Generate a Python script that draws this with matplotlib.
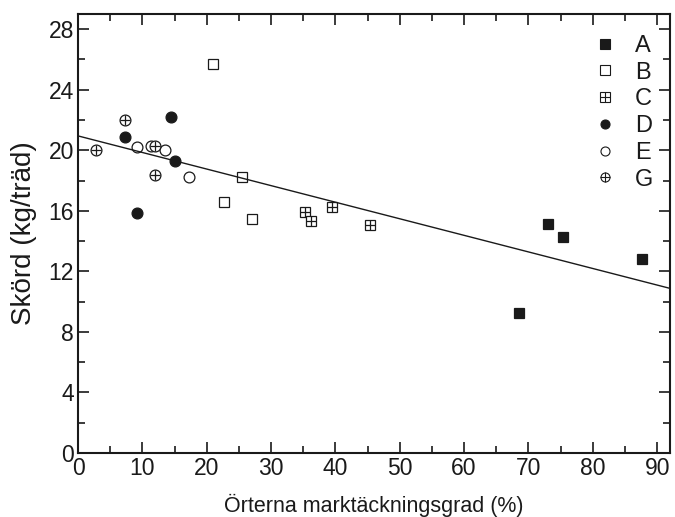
import matplotlib
matplotlib.use("Agg")
import matplotlib.pyplot as plt
from matplotlib.lines import Line2D
from matplotlib.legend_handler import HandlerTuple
from matplotlib.ticker import MultipleLocator
import numpy as np

plt.rcParams['font.family'] = ['Liberation Sans', 'DejaVu Sans']

# Data (x = herb ground cover %, y = yield kg/tree)
A_x = [68.5, 73.0, 75.4, 87.7]
A_y = [9.25, 15.1, 14.3, 12.85]
B_x = [20.9, 22.7, 25.5, 27.0]
B_y = [25.7, 16.6, 18.25, 15.45]
C_x = [35.3, 36.2, 39.4, 45.4]
C_y = [15.9, 15.35, 16.25, 15.05]
D_x = [7.3, 9.2, 14.5, 15.1]
D_y = [20.9, 15.85, 22.2, 19.3]
E_x = [9.1, 11.3, 13.5, 17.3]
E_y = [20.2, 20.3, 20.0, 18.25]
G_x = [2.8, 7.3, 11.9, 12.0]
G_y = [20.05, 22.0, 20.3, 18.35]

fit_intercept = 20.95
fit_slope = -0.1095

xlabel = "Örterna marktäckningsgrad (%)"
ylabel = "Skörd (kg/träd)"

fig = plt.figure(figsize=(6.75, 5.17), dpi=100)
ax = fig.add_axes([0.1156, 0.1238, 0.877, 0.849])

ms = 7.8
lw_m = 0.9
kw = dict(linestyle='none', markersize=ms, markeredgewidth=lw_m, color='black')

ax.plot(A_x, A_y, marker='s', markerfacecolor='#1a1a1a', markeredgecolor='#1a1a1a', **kw)
ax.plot(B_x, B_y, marker='s', markerfacecolor='white', markeredgecolor='#1a1a1a', **kw)
ax.plot(C_x, C_y, marker='s', markerfacecolor='white', markeredgecolor='#1a1a1a', **kw)
ax.plot(C_x, C_y, marker='+', markeredgecolor='#1a1a1a', **kw)
ax.plot(D_x, D_y, marker='o', markerfacecolor='#1a1a1a', markeredgecolor='#1a1a1a', **kw)
ax.plot(E_x, E_y, marker='o', markerfacecolor='white', markeredgecolor='#1a1a1a', **kw)
ax.plot(G_x, G_y, marker='o', markerfacecolor='white', markeredgecolor='#1a1a1a', **kw)
ax.plot(G_x, G_y, marker='+', markeredgecolor='#1a1a1a', **kw)

xx = np.array([0, 92])
ax.plot(xx, fit_intercept + fit_slope * xx, color='#1a1a1a', linewidth=1.0)

ax.set_xlim(0, 92)
ax.set_ylim(0, 29)
ax.xaxis.set_major_locator(MultipleLocator(10))
ax.xaxis.set_minor_locator(MultipleLocator(5))
ax.yaxis.set_major_locator(MultipleLocator(4))
ax.yaxis.set_minor_locator(MultipleLocator(2))
ax.tick_params(which='both', direction='in', top=True, right=True, width=1.2, colors='#1a1a1a', labelcolor='#1a1a1a')
ax.tick_params(which='major', length=8, labelsize=16.5, pad=3)
ax.tick_params(which='minor', length=5)
for s in ax.spines.values():
    s.set_linewidth(1.5)
    s.set_color('#1a1a1a')

ax.set_xlabel(xlabel, fontsize=15.5, color='#1a1a1a', labelpad=10)
ax.set_ylabel(ylabel, fontsize=20, color='#1a1a1a', labelpad=8)

lms = 6.5
lkw = dict(linestyle='none', markersize=lms, markeredgewidth=0.8, color='#1a1a1a')
hA = Line2D([], [], marker='s', markerfacecolor='#1a1a1a', **lkw)
hB = Line2D([], [], marker='s', markerfacecolor='white', **lkw)
hC = (Line2D([], [], marker='s', markerfacecolor='white', **lkw), Line2D([], [], marker='+', **lkw))
hD = Line2D([], [], marker='o', markerfacecolor='#1a1a1a', **lkw)
hE = Line2D([], [], marker='o', markerfacecolor='white', **lkw)
hG = (Line2D([], [], marker='o', markerfacecolor='white', **lkw), Line2D([], [], marker='+', **lkw))
leg = ax.legend([hA, hB, hC, hD, hE, hG], ['A', 'B', 'C', 'D', 'E', 'G'],
                handler_map={tuple: HandlerTuple(ndivide=1)},
                loc='upper right', frameon=False, fontsize=17,
                handlelength=1.0, handletextpad=0.8, labelspacing=0.2,
                borderaxespad=0.3, bbox_to_anchor=(1.0, 0.99))
for t in leg.get_texts():
    t.set_color('#1a1a1a')

fig.savefig("out.png", dpi=100)
